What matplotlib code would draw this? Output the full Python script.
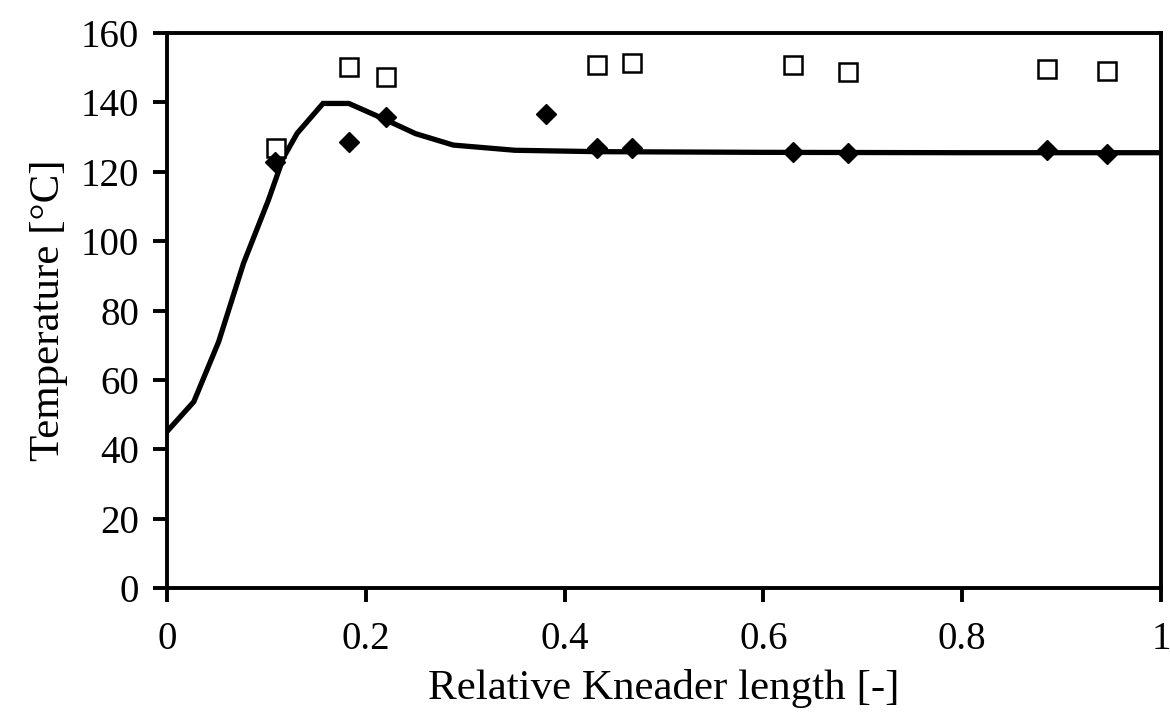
import matplotlib.pyplot as plt

plt.rcParams['font.family'] = ['Liberation Serif', 'DejaVu Serif']

# measured (open squares)
meas_x = [0.110, 0.183, 0.220, 0.433, 0.468, 0.630, 0.685, 0.885, 0.946]
meas_y = [126.9, 150.1, 147.2, 150.8, 151.3, 150.8, 148.7, 149.6, 149.0]

# calculated points (filled diamonds)
calc_x = [0.109, 0.183, 0.220, 0.381, 0.433, 0.468, 0.630, 0.685, 0.885, 0.946]
calc_y = [122.9, 128.5, 135.7, 136.6, 126.8, 126.8, 125.7, 125.4, 126.3, 125.1]

# simulated profile (solid line)
line_x = [0.0, 0.027, 0.052, 0.077, 0.102, 0.117, 0.131, 0.157, 0.183, 0.220,
          0.250, 0.288, 0.350, 0.433, 0.600, 0.800, 1.0]
line_y = [45.1, 53.7, 71.0, 93.6, 111.8, 124.0, 131.1, 139.7, 139.7, 135.0,
          131.0, 127.7, 126.2, 125.8, 125.6, 125.5, 125.5]

fig = plt.figure(figsize=(11.7, 7.15), dpi=100)
ax = fig.add_axes([0.1427, 0.1776, 0.9923 - 0.1427, 0.9538 - 0.1776])

ax.plot(line_x, line_y, color="black", lw=3.8, solid_joinstyle="miter")
ax.plot(meas_x, meas_y, ls="none", marker="s", ms=12.5, mfc="white",
        mec="black", mew=1.8)
ax.plot(calc_x, calc_y, ls="none", marker="D", ms=10.5, color="black")

ax.set_xlim(0, 1)
ax.set_ylim(0, 160)
ax.set_xticks([0, 0.2, 0.4, 0.6, 0.8, 1.0])
ax.set_xticklabels(["0", "0.2", "0.4", "0.6", "0.8", "1"])
ax.set_yticks(range(0, 161, 20))

for s in ax.spines.values():
    s.set_linewidth(2.8)
ax.tick_params(direction="out", length=10, width=2.8, labelsize=28)
ax.tick_params(axis="x", pad=14)
ax.tick_params(axis="y", pad=10)

ax.set_xlabel("Relative Kneader length [-]", fontsize=31, labelpad=8)
ax.set_ylabel("Temperature [°C]", fontsize=31, labelpad=9)

fig.savefig("out.png", dpi=100)
